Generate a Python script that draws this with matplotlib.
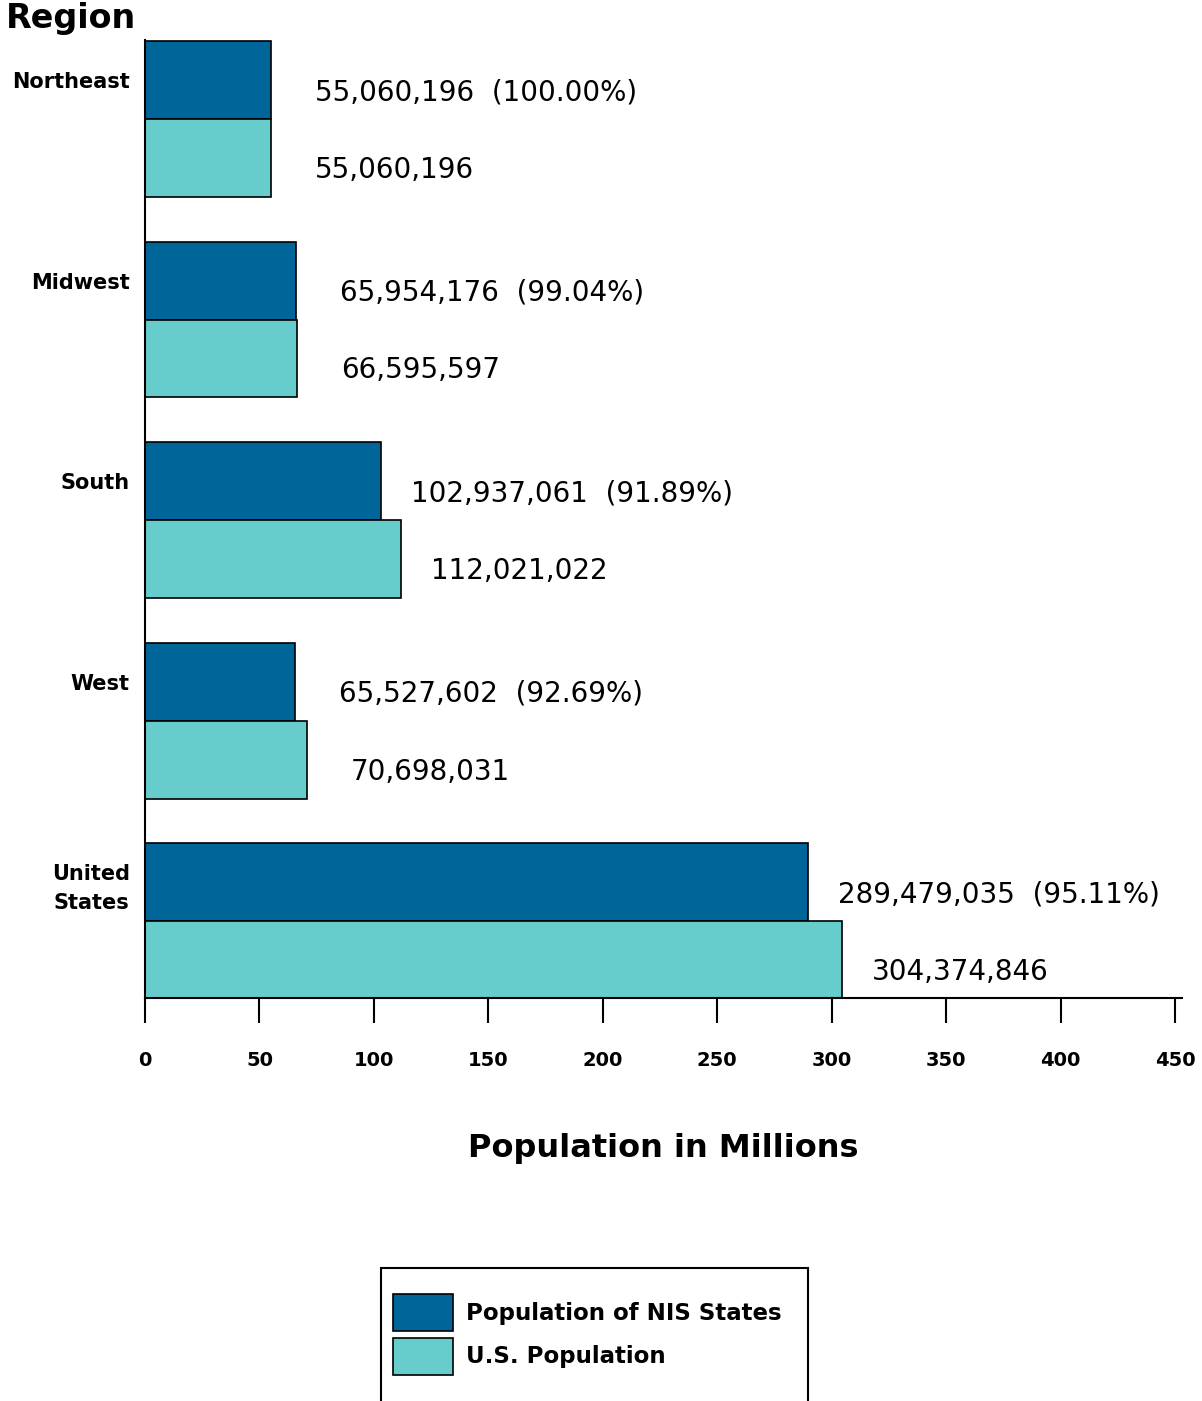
import matplotlib
matplotlib.use("Agg")
import matplotlib.pyplot as plt
from matplotlib.patches import Rectangle
import numpy as np

# data (population counts)
regions = ["Northeast", "Midwest", "South", "West", "United\nStates"]
nis_pop = [55060196, 65954176, 102937061, 65527602, 289479035]
us_pop = [55060196, 66595597, 112021022, 70698031, 304374846]
x_ticks = [0, 50, 100, 150, 200, 250, 300, 350, 400, 450]

dark = "#006699"
light = "#66CCCC"

plt.rcParams['font.family'] = ['DejaVu Sans']

fig = plt.figure(figsize=(12.02, 14.01), dpi=100)
W, H = 1202, 1401
ax = fig.add_axes([145 / W, 1 - 998 / H, (1182 - 145) / W, (998 - 40) / H])

pos = np.arange(len(regions))
h = 0.389
nis_m = np.array(nis_pop) / 1e6
us_m = np.array(us_pop) / 1e6

ax.barh(pos - h / 2, nis_m, height=h, color=dark, edgecolor="black", linewidth=1.2,
        label="Population of NIS States")
ax.barh(pos + h / 2, us_m, height=h, color=light, edgecolor="black", linewidth=1.2,
        label="U.S. Population")

for i in range(len(regions)):
    pct = nis_pop[i] / us_pop[i] * 100
    lab1 = f"{nis_pop[i]:,}  ({pct:.2f}%)"
    lab2 = f"{us_pop[i]:,}"
    dx1 = 44 if nis_pop[i] < 1e8 else 30
    dx2 = 44 if us_pop[i] < 1e8 else 30
    ax.annotate(lab1, xy=(nis_m[i], pos[i] - h / 2), xytext=(dx1, -12),
                textcoords="offset pixels", va="center", ha="left", fontsize=20)
    ax.annotate(lab2, xy=(us_m[i], pos[i] + h / 2), xytext=(dx2, -12),
                textcoords="offset pixels", va="center", ha="left", fontsize=20)

ax.set_xlim(0, 453)
ax.set_ylim(4.384, -0.394)
ax.set_xticks(x_ticks)
ax.set_xticklabels([str(t) for t in x_ticks], fontsize=14, fontweight="bold")
ax.tick_params(axis="x", direction="out", length=18, width=1.5, pad=20)
ax.set_yticks(pos - h / 2)
ax.set_yticklabels(regions, fontsize=15, fontweight="bold")
for t in ax.get_yticklabels():
    t.set_linespacing(1.55)
ax.tick_params(axis="y", length=0, pad=11)

for s in ["top", "right"]:
    ax.spines[s].set_visible(False)
for s in ["left", "bottom"]:
    ax.spines[s].set_linewidth(1.5)

ax.set_xlabel("Population in Millions", fontsize=23, fontweight="bold")
ax.xaxis.set_label_coords(0.5, -(1133 - 998) / (998 - 40))

fig.text(6 / W, 1 - 2 / H, "Region", fontsize=24, fontweight="bold", va="top", ha="left")

leg = ax.legend(loc="upper left", bbox_to_anchor=(393 / W, 1 - 1294 / H),
                bbox_transform=fig.transFigure, frameon=False, borderpad=0,
                borderaxespad=0, prop={"size": 16.5, "weight": "bold"},
                handlelength=2.62, handleheight=2.1, handletextpad=0.57,
                labelspacing=0.3)
fig.add_artist(Rectangle((381 / W, 1 - 1405 / H), 427 / W, (1405 - 1268) / H,
                         transform=fig.transFigure, fill=False, edgecolor="black",
                         linewidth=1.5))

fig.savefig("out.png", dpi=100)
